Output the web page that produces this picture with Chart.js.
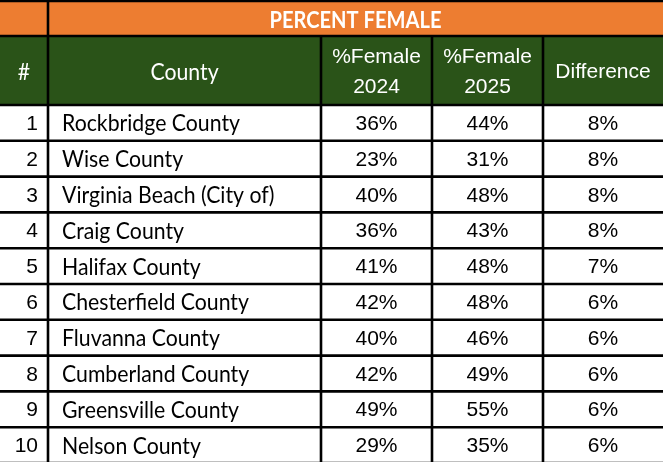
<!DOCTYPE html>
<html>
<head>
<meta charset="utf-8">
<style>
html,body{margin:0;padding:0;background:#ffffff;overflow:hidden}
#wrap{width:663px;height:462px;position:relative}
</style>
<script src="https://cdn.jsdelivr.net/npm/chart.js@4.4.1/dist/chart.umd.min.js"></script>
</head>
<body>
<div id="wrap"><canvas id="c" width="663" height="462"></canvas></div>
<script>
// ---- data ----
const title = 'PERCENT FEMALE';
const headers = ['#', 'County', '%Female\n2024', '%Female\n2025', 'Difference'];
const ranks = [1, 2, 3, 4, 5, 6, 7, 8, 9, 10];
const counties = ['Rockbridge County', 'Wise County', 'Virginia Beach (City of)', 'Craig County', 'Halifax County',
  'Chesterfield County', 'Fluvanna County', 'Cumberland County', 'Greensville County', 'Nelson County'];
const female2024 = [36, 23, 40, 36, 41, 42, 40, 42, 49, 29];
const female2025 = [44, 31, 48, 43, 48, 48, 46, 49, 55, 35];
const difference = [8, 8, 8, 8, 7, 6, 6, 6, 6, 6];

// ---- layout (table geometry in scale units) ----
const colEdges = [0, 48, 321, 432, 543, 663];
const titleTop = 0, titleBottom = 36, headerBottom = 105, rowH = 35.8;

const ORANGE = '#ED7D31';
const GREEN = '#2A5318';
const CAL = "Lato, 'Open Sans', sans-serif";
const ARI = "'Liberation Sans', Arial, sans-serif";

const tablePlugin = {
  id: 'tablePlugin',
  afterDraw(chart) {
    const ctx = chart.ctx;
    const sx = chart.scales.x, sy = chart.scales.y;
    const X = v => sx.getPixelForValue(v);
    const Y = v => sy.getPixelForValue(v);
    const n = counties.length;
    const rowTop = i => headerBottom + i * rowH;
    const W = colEdges[colEdges.length - 1];
    const bottom = rowTop(n);

    // factor to make Lato approximate Calibri widths
    ctx.font = '23px ' + CAL;
    const calF = 178 / ctx.measureText('Rockbridge County').width;
    ctx.font = 'bold 23px ' + CAL;
    const calBF = 172 / ctx.measureText(title).width;

    function capH(font) {
      ctx.font = font;
      return ctx.measureText('H').actualBoundingBoxAscent;
    }
    function text(str, x, yMid, font, color, align, f) {
      ctx.save();
      ctx.font = font;
      ctx.fillStyle = color;
      ctx.textAlign = align;
      ctx.textBaseline = 'alphabetic';
      const ch = capH(font);
      ctx.translate(x, yMid + ch / 2);
      ctx.scale(f || 1, 1);
      ctx.fillText(str, 0, 0);
      ctx.restore();
    }

    // backgrounds
    ctx.save();
    ctx.fillStyle = '#ffffff';
    ctx.fillRect(X(0), Y(0), X(W) - X(0), Y(bottom) - Y(0));
    ctx.fillStyle = ORANGE;
    ctx.fillRect(X(0), Y(titleTop), X(W) - X(0), Y(titleBottom) - Y(titleTop));
    ctx.fillStyle = GREEN;
    ctx.fillRect(X(0), Y(titleBottom), X(W) - X(0), Y(headerBottom) - Y(titleBottom));
    ctx.restore();

    // title
    text(title, (X(colEdges[1]) + X(W)) / 2, (Y(titleTop) + Y(titleBottom)) / 2 + 1,
      'bold 23px ' + CAL, '#ffffff', 'center', calBF);

    // header texts
    const hMid = (Y(titleBottom) + Y(headerBottom)) / 2;
    headers.forEach((h, c) => {
      const cx = (X(colEdges[c]) + X(colEdges[c + 1])) / 2;
      const lines = h.split('\n');
      const font = (c <= 1) ? '23px ' + CAL : '21px ' + ARI;
      const f = (c <= 1) ? calF : 1;
      const lh = 30;
      lines.forEach((ln, k) => {
        const ym = hMid + (k - (lines.length - 1) / 2) * lh + 0.5;
        text(ln, cx, ym, font, '#ffffff', 'center', f);
      });
    });

    // data rows
    for (let i = 0; i < n; i++) {
      const ym = (Y(rowTop(i)) + Y(rowTop(i + 1))) / 2;
      text(String(ranks[i]), X(colEdges[1]) - 10, ym, '21px ' + ARI, '#000000', 'right', 1);
      text(counties[i], X(colEdges[1]) + 14, ym, '23px ' + CAL, '#000000', 'left', calF);
      const vals = [female2024[i], female2025[i], difference[i]];
      vals.forEach((v, k) => {
        const c = k + 2;
        const cx = (X(colEdges[c]) + X(colEdges[c + 1])) / 2;
        text(v + '%', cx, ym, '21px ' + ARI, '#000000', 'center', 1);
      });
    }

    // grid lines
    ctx.save();
    ctx.strokeStyle = '#000000';
    ctx.lineWidth = 2.6;
    ctx.beginPath();
    const hLines = [titleTop + 1, titleBottom, headerBottom];
    for (let i = 1; i <= n; i++) hLines.push(rowTop(i));
    hLines.forEach(v => { ctx.moveTo(X(0), Y(v)); ctx.lineTo(X(W), Y(v)); });
    ctx.moveTo(X(colEdges[1]), Y(titleTop)); ctx.lineTo(X(colEdges[1]), Y(bottom));
    for (let c = 2; c < colEdges.length - 1; c++) {
      ctx.moveTo(X(colEdges[c]), Y(titleBottom)); ctx.lineTo(X(colEdges[c]), Y(bottom));
    }
    ctx.stroke();
    ctx.restore();
  }
};

new Chart(document.getElementById('c'), {
  type: 'scatter',
  data: { datasets: [{ data: [], pointRadius: 0 }] },
  options: {
    responsive: false,
    animation: false,
    devicePixelRatio: 1,
    layout: { padding: 0 },
    plugins: { legend: { display: false }, tooltip: { enabled: false }, title: { display: false } },
    scales: {
      x: { type: 'linear', min: 0, max: 663, display: false },
      y: { type: 'linear', min: 0, max: 462, reverse: true, display: false }
    }
  },
  plugins: [tablePlugin]
});
</script>
</body>
</html>
